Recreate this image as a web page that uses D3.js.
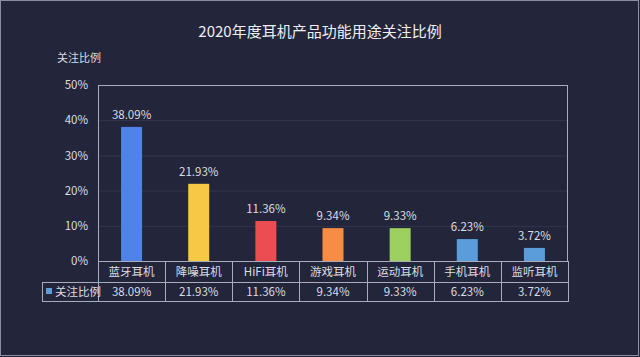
<!DOCTYPE html>
<html><head><meta charset="utf-8">
<script src="https://cdn.jsdelivr.net/npm/d3@7"></script>
<style>html,body{margin:0;padding:0;background:#23253b;}svg{display:block;}</style>
</head><body>
<svg id="c" width="640" height="357"></svg>
<script>
const title = "2020年度耳机产品功能用途关注比例";
const yAxisTitle = "关注比例";
const seriesName = "关注比例";
const categories = ["蓝牙耳机","降噪耳机","HiFi耳机","游戏耳机","运动耳机","手机耳机","监听耳机"];
const values = [38.09, 21.93, 11.36, 9.34, 9.33, 6.23, 3.72];
const barColors = ["#5083e8","#f7c843","#eb4d51","#f78c45","#9dd05f","#5b9ddb","#5b9ddb"];
const yTicks = [0,10,20,30,40,50];

const svg = d3.select("#c");
const font = "'Noto Sans CJK SC', 'Noto Sans', sans-serif";
const txt = "#dcdde3";
const lineCol = "#a9acba";

svg.append("rect").attr("x",0.5).attr("y",0.5).attr("width",638).attr("height",355)
  .attr("fill","#23253b").attr("stroke","#8a8ca0").attr("stroke-width",1);

const L=98, R=568, T=85, B=261;
const x = d3.scaleBand().domain(categories).range([L,R]);
const y = d3.scaleLinear().domain([0,50]).range([B,T]);

svg.append("text").attr("x",320).attr("y",37).attr("text-anchor","middle")
  .attr("fill","#f0f0f4").attr("font-family",font).attr("font-size",15).text(title);
svg.append("text").attr("x",57).attr("y",62)
  .attr("fill",txt).attr("font-family",font).attr("font-size",11).text(yAxisTitle);

// gridlines
svg.append("g").selectAll("line").data(yTicks.filter(t=>t>0&&t<50)).join("line")
  .attr("x1",L).attr("x2",R).attr("y1",d=>y(d)+0.5).attr("y2",d=>y(d)+0.5)
  .attr("stroke","#33364c").attr("stroke-width",1);

// y axis labels
const yAxis = d3.axisLeft(y).tickValues(yTicks).tickFormat(d=>d+"%").tickSize(0).tickPadding(10);
const gy = svg.append("g").attr("transform",`translate(${L},0)`).call(yAxis);
gy.select(".domain").remove();
gy.selectAll("text").attr("fill",txt).attr("font-family",font).attr("font-size",11.5);

// plot border
svg.append("rect").attr("x",L+0.5).attr("y",T+0.5).attr("width",R-L-1).attr("height",B-T)
  .attr("fill","none").attr("stroke",lineCol).attr("stroke-width",1);

// bars
const bw = 21;
svg.append("g").selectAll("rect").data(values).join("rect")
  .attr("x",(d,i)=>x(categories[i])+x.bandwidth()/2-bw/2)
  .attr("width",bw)
  .attr("y",d=>y(d)).attr("height",d=>B-y(d))
  .attr("fill",(d,i)=>barColors[i]);

// data labels
svg.append("g").selectAll("text").data(values).join("text")
  .attr("x",(d,i)=>x(categories[i])+x.bandwidth()/2)
  .attr("y",d=>y(d)-8)
  .attr("text-anchor","middle").attr("fill",txt).attr("font-family",font).attr("font-size",11.5)
  .text(d=>d.toFixed(2)+"%");

// table
const r1=261, r2=282, r3=301, legL=42;
const tg = svg.append("g").attr("stroke",lineCol).attr("stroke-width",1).attr("fill","none");
tg.append("line").attr("x1",L).attr("x2",R).attr("y1",r1+0.5).attr("y2",r1+0.5);
tg.append("line").attr("x1",legL).attr("x2",R).attr("y1",r2+0.5).attr("y2",r2+0.5);
tg.append("line").attr("x1",legL).attr("x2",R).attr("y1",r3+0.5).attr("y2",r3+0.5);
tg.append("line").attr("x1",legL+0.5).attr("x2",legL+0.5).attr("y1",r2).attr("y2",r3+1);
tg.selectAll("line.v").data(d3.range(categories.length+1)).join("line").attr("class","v")
  .attr("x1",i=>Math.round(L+i*x.step())+0.5).attr("x2",i=>Math.round(L+i*x.step())+0.5)
  .attr("y1",r1).attr("y2",r3+1);

svg.append("g").selectAll("text").data(categories).join("text")
  .attr("x",d=>x(d)+x.bandwidth()/2).attr("y",(r1+r2)/2+4.5)
  .attr("text-anchor","middle").attr("fill",txt).attr("font-family",font).attr("font-size",11.5)
  .text(d=>d);
svg.append("g").selectAll("text").data(values).join("text")
  .attr("x",(d,i)=>x(categories[i])+x.bandwidth()/2).attr("y",(r2+r3)/2+4.5)
  .attr("text-anchor","middle").attr("fill",txt).attr("font-family",font).attr("font-size",11.5)
  .text(d=>d.toFixed(2)+"%");
svg.append("rect").attr("x",46).attr("y",(r2+r3)/2-3.5).attr("width",6).attr("height",6).attr("fill","#5b9ddb");
svg.append("text").attr("x",55).attr("y",(r2+r3)/2+4.5).attr("fill",txt).attr("font-family",font)
  .attr("font-size",11.5).text(seriesName);
</script>
</body></html>
